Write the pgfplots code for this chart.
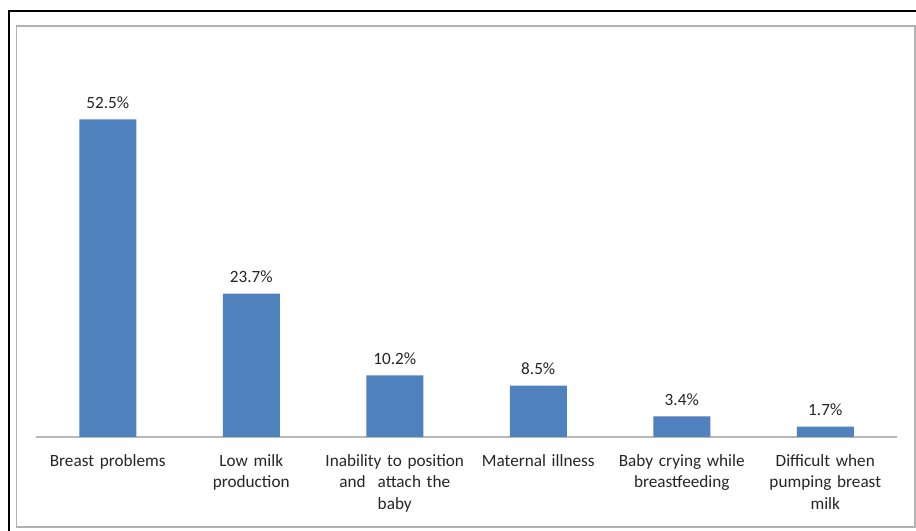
\documentclass[border=0pt]{standalone}
\usepackage{pgfplots}
\pgfplotsset{compat=1.18}
\usepackage{fontspec}
\setmainfont{Carlito}
\definecolor{barblue}{HTML}{4F81BD}
\definecolor{txt}{HTML}{262626}
\begin{document}
\begin{tikzpicture}
\clip (0,0) rectangle (687pt,398.25pt);
\fill[white] (0,0) rectangle (687pt,398.25pt);
\draw[black, line width=1.5pt] (6.9pt,-10pt) -- (6.9pt,390pt) -- (700pt,390pt);
\draw[black!30, line width=1.1pt] (12.4pt,3pt) rectangle (686.3pt,378.75pt);
\begin{axis}[
  at={(27pt,70.5pt)}, anchor=south west,
  scale only axis, width=645.75pt, height=272.25pt,
  xmin=-0.5, xmax=5.5, ymin=0, ymax=60,
  ybar, bar width=42.75pt,
  axis x line=bottom, axis y line=none,
  x axis line style={-, draw=black!28, line width=0.9pt},
  xtick=data, ytick=\empty, major tick length=0pt,
  /pgf/number format/assume math mode=true,
  xticklabels={{Breast problems},{Low milk\\production},{Inability to position\\and\hspace{0.7em}attach the\\baby},{Maternal illness},{Baby crying while\\breastfeeding},{Difficult when\\pumping breast\\milk}},
  xticklabel style={text width=125pt, align=center, font=\fontsize{12.9}{16.2}\selectfont, text=txt, yshift=-9.5pt},
  nodes near coords={\pgfmathprintnumber[fixed,precision=1,fixed zerofill,assume math mode=true]{\pgfplotspointmeta}\%},
  every node near coord/.append style={font=\fontsize{12.9}{15}\selectfont, text=txt, yshift=4.5pt},
  clip=false,
]
\addplot[fill=barblue, draw=none] coordinates {(0,52.5) (1,23.7) (2,10.2) (3,8.5) (4,3.4) (5,1.7)};
\end{axis}
\end{tikzpicture}
\end{document}
